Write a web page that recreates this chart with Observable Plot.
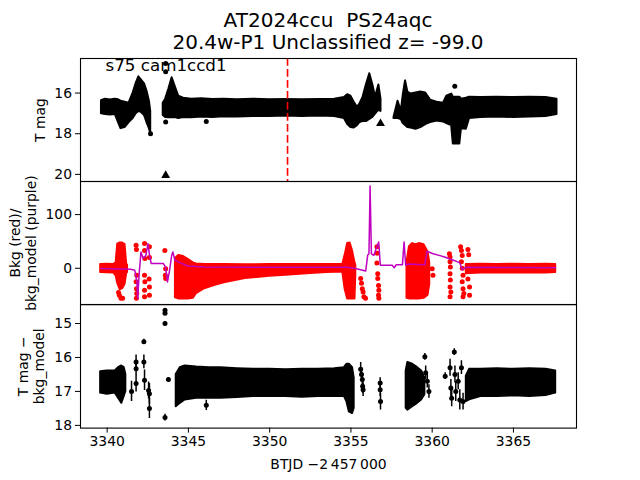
<!DOCTYPE html>
<html><head><meta charset="utf-8">
<script src="https://cdn.jsdelivr.net/npm/d3@7"></script>
<script src="https://cdn.jsdelivr.net/npm/@observablehq/plot@0.6"></script>
<style>
body{margin:0;background:white;}
#fig{position:relative;width:640px;height:480px;font-family:"DejaVu Sans",sans-serif;color:black;}
#title{position:absolute;left:0;width:656px;top:9px;text-align:center;font-size:20px;line-height:22px;white-space:pre;}
</style></head>
<body><div id="fig"><div id="title">AT2024ccu  PS24aqc
20.4w-P1 Unclassified z= -99.0</div></div>
<script>
// ---------- data ----------
const xDomain = [3338.36, 3368.88];
const xTicks = [3340, 3345, 3350, 3355, 3360, 3365];
const tMarker = 3351.1;              // red dashed line
const labelTop = "s75 cam1ccd1";

// Panel 1: T mag, dense point cloud envelopes [t, bright edge, faint edge]
const magBand1 = [
 [3339.65,16.38,17.02],[3339.9,16.3,17.05],[3340.2,16.34,17.08],[3340.5,16.3,17.05],
 [3340.7,16.33,17.45],[3340.85,16.4,17.75],[3341.1,16.45,17.7],[3341.35,16.5,17.45],
 [3341.6,16.0,17.25],[3341.8,15.5,17.0],[3341.95,15.2,16.9],[3342.1,15.35,16.95],
 [3342.3,15.55,17.1],[3342.45,15.9,17.45],[3342.6,16.4,17.75],[3342.68,16.9,18.0]
];
const magBand2 = [
 [3343.45,16.5,17.1],[3343.6,16.3,17.2],[3343.8,15.8,17.22],[3344.0,15.25,17.22],
 [3344.2,15.7,17.2],[3344.4,16.15,17.25],[3344.7,16.25,17.2],[3345.2,16.3,17.22],
 [3345.8,16.28,17.18],[3346.5,16.32,17.2],[3347.2,16.3,17.17],[3348.0,16.33,17.18],
 [3349.0,16.3,17.15],[3350.0,16.33,17.15],[3351.0,16.32,17.13],[3352.0,16.33,17.15],
 [3353.0,16.32,17.13],[3354.0,16.3,17.15],[3354.6,16.22,17.25],[3354.8,16.08,17.55],
 [3355.0,16.15,17.7],[3355.2,16.45,17.72],[3355.4,16.7,17.6],[3355.55,16.55,17.45],
 [3355.75,16.2,17.4],[3355.95,15.6,17.4],[3356.16,15.05,17.3],[3356.35,15.6,17.2],
 [3356.5,16.15,17.05],[3356.6,15.95,16.95],[3356.72,15.6,16.85],[3356.85,16.3,16.9]
];
const magBand3 = [
 [3357.65,17.2,17.25],[3357.9,16.4,17.25],[3358.1,16.9,17.3],[3358.22,16.1,17.5],
 [3358.36,15.4,17.6],[3358.5,15.95,17.7],[3358.7,16.05,17.72],[3359.0,16.0,17.78],
 [3359.3,15.95,17.7],[3359.6,16.0,17.55],[3359.9,16.35,17.45],[3360.3,16.45,17.38],
 [3360.7,16.5,17.42],[3360.9,16.15,17.5],[3361.2,16.05,17.6],[3361.3,16.2,18.5],
 [3361.7,16.2,18.5],[3361.8,16.3,17.75],[3362.1,16.25,17.78],[3362.3,16.2,17.25],
 [3363.0,16.22,17.2],[3364.0,16.2,17.18],[3365.0,16.22,17.2],[3366.0,16.2,17.18],
 [3367.0,16.22,17.15],[3367.68,16.3,17.05]
];
const magDots = [[3343.6,14.55],[3343.6,14.95],[3343.6,17.42],[3346.1,17.4],[3342.67,18.0],
 [3361.39,15.67],[3360.72,16.68],[3360.35,16.7]];
const magTriangles = [[3343.6,20.05],[3356.82,17.5]];

// Panel 2: background flux (red) envelopes [t, top, bottom], scattered points, model (purple)
const bkgBandA = [
 [3339.6,7,-8],[3340.0,7.5,-8.5],[3340.4,7,-9],[3340.55,10,-14],[3340.65,45,-28],
 [3340.8,47,-40],[3340.95,47,-38],[3341.1,44,-30],[3341.2,8,-10],[3341.25,6,-8]
];
const bkgBandB = [
 [3344.2,18,-55],[3344.4,24,-57],[3344.7,22,-57],[3345.0,16,-57],[3345.3,10,-56],
 [3345.5,8,-47],[3346.0,7,-38],[3346.6,7,-32],[3347.2,7,-27],[3348.5,6.5,-19],
 [3350.0,7,-15],[3351.0,7,-13],[3352.3,7,-10],[3353.5,7,-8],[3354.5,7,-7],
 [3354.65,25,-40],[3354.8,46,-57],[3354.95,47,-57],[3355.1,32,-57],[3355.25,10,-57],[3355.3,5,-12]
];
const bkgBandC = [
 [3358.45,10,-56],[3358.6,40,-57],[3358.8,46,-57],[3359.0,44,-57],[3359.2,46,-57],
 [3359.5,44,-56],[3359.75,30,-50],[3359.85,10,-30]
];
const bkgBandD = [
 [3362.1,7,-10],[3363,7.5,-9],[3364,7,-9],[3365,7.5,-9],[3366,7,-9],[3367,7.5,-9],[3367.6,7,-8]
];
const bkgDots = [
 [3340.75,-50],[3340.85,-56],[3340.95,-56],[3340.7,-45],
 [3341.78,43],[3341.8,35],[3341.82,-13],[3341.78,-25],[3341.8,-38],[3341.82,-47],[3341.8,-56],
 [3342.3,46],[3342.3,33],[3342.32,18],[3342.3,-13],[3342.32,-25],[3342.3,-41],[3342.3,-53],
 [3342.6,40],[3342.6,20],[3342.58,-20],[3342.6,-35],[3342.6,-50],
 [3343.55,33],[3343.6,-1],[3343.58,-13],[3343.6,-19],
 [3355.6,-19],[3355.65,-28],[3355.7,-38],[3355.75,-44],[3355.8,-53],[3355.9,-56],
 [3356.6,40],[3356.62,28],[3356.6,10],[3356.65,-10],[3356.65,-19],[3356.7,-32],[3356.72,-41],[3356.7,-50],[3356.72,-56],
 [3360.0,-1],[3360.05,-13],
 [3361.06,27],[3361.1,21],[3361.1,12],[3361.12,2.5],[3361.1,-10],[3361.12,-22],[3361.1,-35],[3361.15,-44],[3361.1,-53],
 [3361.75,40],[3361.8,33],[3361.85,24],[3361.8,12],[3361.85,0],[3361.9,-13],[3361.85,-25],[3361.9,-38],[3361.95,-47],[3361.9,-53],
 [3362.2,35],[3362.25,25],[3362.2,-20],[3362.3,-35],[3362.3,-50]
];
const bkgModel = [
 [3339.6,-0.6],[3341.45,-1.9],[3341.7,-3.7],[3341.83,-25],[3341.88,-56.5],[3341.96,-13],
 [3342.08,30.4],[3342.21,18],[3342.38,24],[3342.51,45.9],[3342.61,24],[3342.71,8.7],
 [3343.46,8.7],[3343.59,2.5],[3343.71,-25.4],[3343.84,-3.7],[3343.97,24],[3344.04,30.4],
 [3344.17,14.9],[3344.47,10.6],[3344.97,4.3],[3345.98,2.5],[3350,2],[3354.78,1.9],
 [3355.28,-0.6],[3355.91,-5],[3356.03,24.2],[3356.11,27],[3356.18,153],[3356.26,27],
 [3356.41,24],[3356.59,40],[3356.71,49],[3356.81,5.6],[3357.54,5.6],[3357.67,1],
 [3357.79,6.8],[3358.17,6.8],[3358.27,49],[3358.37,5.6],[3358.55,8],[3359.55,6.8],
 [3359.68,31.7],[3360.06,27],[3360.43,24],[3360.81,20.5],[3361.31,14.9],[3361.69,10.6],
 [3361.86,-3],[3362.07,1.9],[3367.6,1.2]
];

// Panel 3: T mag - bkg_model envelopes and sparse points [t, mag, err]
const dmagBandA = [[3339.6,16.42,17.05],[3340.0,16.4,17.08],[3340.5,16.4,17.05],[3340.7,16.3,17.2],
 [3340.9,16.25,17.35],[3341.05,16.3,17.15],[3341.15,16.5,17.0]];
const dmagBandB = [[3344.25,16.5,17.45],[3344.5,16.3,17.35],[3344.8,16.25,17.25],[3345.5,16.28,17.2],
 [3346.3,16.3,17.2],[3347,16.3,17.2],[3348,16.33,17.18],[3349,16.35,17.15],[3350,16.35,17.15],
 [3351,16.36,17.15],[3352,16.35,17.17],[3353,16.35,17.15],[3354,16.33,17.15],[3354.6,16.3,17.15],
 [3354.75,16.2,17.3],[3354.9,16.2,17.6],[3355.1,16.3,17.65],[3355.2,16.6,17.5]];
const dmagBandC = [[3358.4,16.4,17.5],[3358.5,16.15,17.55],[3358.8,16.2,17.45],[3359.1,16.3,17.35],
 [3359.35,16.4,17.25],[3359.55,16.6,17.1]];
const dmagBandD = [[3362.1,16.55,17.3],[3362.3,16.35,17.25],[3363,16.35,17.15],[3364,16.33,17.15],
 [3365,16.35,17.13],[3366,16.33,17.15],[3367,16.35,17.12],[3367.6,16.4,17.05]];
const dmagPoints = [
 [3341.5,17.0,0.3],[3341.78,16.13,0.2],[3341.78,16.33,0.2],[3341.78,16.77,0.25],
 [3342.26,15.54,0.08],[3342.26,16.13,0.2],[3342.3,16.67,0.3],
 [3342.55,16.97,0.25],[3342.6,17.07,0.3],[3342.6,17.5,0.3],
 [3343.56,14.61,0.05],[3343.56,14.7,0.05],[3343.56,15.0,0.05],[3343.56,17.77,0.1],
 [3343.77,16.65,0.05],[3346.1,17.41,0.15],
 [3355.6,16.35,0.2],[3355.65,16.5,0.2],[3355.7,16.65,0.2],[3355.72,16.85,0.2],[3355.75,16.95,0.2],
 [3356.8,16.75,0.15],[3356.8,16.95,0.2],[3356.82,17.3,0.25],
 [3359.55,15.98,0.1],[3359.6,16.45,0.2],[3359.7,16.7,0.2],[3359.8,17.0,0.2],
 [3360.8,16.55,0.1],
 [3361.1,16.3,0.25],[3361.15,16.9,0.25],[3361.2,17.2,0.25],
 [3361.36,15.84,0.1],[3361.4,16.5,0.25],[3361.45,17.0,0.3],
 [3361.6,16.7,0.25],[3361.7,17.25,0.3],[3361.8,16.3,0.2],[3361.9,17.3,0.25]
];

// ---------- helpers ----------
const rows = segs => segs.flatMap((seg, s) => seg.map(([t, lo, hi]) => ({t, lo, hi, s})));
const pts = arr => arr.map(([t, v, e]) => ({t, v, e}));
const FONT = "DejaVu Sans";
const baseStyle = {fontFamily: FONT, fontSize: "13.9px", background: "transparent", overflow: "visible", color: "black"};
const common = {width: 640, marginLeft: 80, marginRight: 64, style: baseStyle};
const yTick = {tickSize: 5, tickPadding: 3.5, tickFormat: "d", label: null};
const ylab = (txt, dx) => Plot.text([txt], {text: d => d, frameAnchor: "left", dx, rotate: -90,
  textAnchor: "middle", lineAnchor: "middle", lineHeight: 1.15, fontSize: 13.9, fill: "black"});

// ---------- panel 1 ----------
const p1 = Plot.plot({
  ...common, height: 181, marginTop: 58, marginBottom: 0,
  x: {domain: xDomain, axis: null},
  y: {domain: [14.3, 20.35], reverse: true, ticks: [16, 18, 20], ...yTick},
  marks: [
    Plot.areaY(rows([magBand1, magBand2, magBand3]), {x: "t", y1: "lo", y2: "hi", z: "s", fill: "black", stroke: "black", strokeWidth: 2, strokeLinejoin: "round", clip: true}),
    Plot.dot(pts(magDots), {x: "t", y: "v", r: 2.5, fill: "black", clip: true}),
    Plot.dot(pts(magTriangles), {x: "t", y: "v", r: 3.3, symbol: "triangle", fill: "black", clip: true}),
    Plot.ruleX([tMarker], {stroke: "#ff0000", strokeWidth: 1.6, strokeDasharray: "7.7,3.3"}),
    Plot.frame({stroke: "black", strokeWidth: 1.1}),
    Plot.text([labelTop], {text: d => d, frameAnchor: "top-left", dx: 25, dy: 12, textAnchor: "start", lineAnchor: "bottom", fontSize: 16.7, fill: "black"}),
    ylab("T mag", -41)
  ]
});

// ---------- panel 2 ----------
const p2 = Plot.plot({
  ...common, height: 123.2, marginTop: 0, marginBottom: 0,
  x: {domain: xDomain, axis: null},
  y: {domain: [-67.8, 161.6], ticks: [0, 100], ...yTick},
  marks: [
    Plot.areaY(rows([bkgBandA, bkgBandB, bkgBandC, bkgBandD]), {x: "t", y1: "lo", y2: "hi", z: "s", fill: "#ff0000", stroke: "#ff0000", strokeWidth: 2, strokeLinejoin: "round", clip: true}),
    Plot.dot(pts(bkgDots), {x: "t", y: "v", r: 2.5, fill: "#ff0000", clip: true}),
    Plot.line(pts(bkgModel), {x: "t", y: "v", stroke: "#bf00bf", strokeWidth: 1.5, clip: true}),
    Plot.frame({stroke: "black", strokeWidth: 1.1}),
    ylab("Bkg (red)/\nbkg_model (purple)", -58)
  ]
});

// ---------- panel 3 ----------
const p3 = Plot.plot({
  ...common, height: 176, marginTop: 0, marginBottom: 52.4,
  x: {domain: xDomain, ticks: xTicks, tickFormat: "d", tickSize: 5, tickPadding: 3.5, label: null},
  y: {domain: [14.44, 18.08], reverse: true, ticks: [15, 16, 17, 18], ...yTick},
  marks: [
    Plot.ruleX(pts(dmagPoints), {x: "t", y1: d => d.v - d.e, y2: d => d.v + d.e, stroke: "black", strokeWidth: 1.5, clip: true}),
    Plot.areaY(rows([dmagBandA, dmagBandB, dmagBandC, dmagBandD]), {x: "t", y1: "lo", y2: "hi", z: "s", fill: "black", stroke: "black", strokeWidth: 2, strokeLinejoin: "round", clip: true}),
    Plot.dot(pts(dmagPoints), {x: "t", y: "v", r: 2.5, fill: "black", clip: true}),
    Plot.frame({stroke: "black", strokeWidth: 1.1}),
    ylab("T mag \u2212\nbkg_model", -50),
    Plot.text(["BTJD \u22122\u2009457\u2009000"], {text: d => d, frameAnchor: "bottom", dy: 36.4, textAnchor: "middle", lineAnchor: "middle", fontSize: 13.9, fill: "black"})
  ]
});

const fig = document.getElementById("fig");
[[p1, 0], [p2, 181.2], [p3, 304.4]].forEach(([el, top]) => {
  el.style.position = "absolute";
  el.style.left = "0px";
  el.style.top = top + "px";
  fig.appendChild(el);
});
</script>
</body></html>
